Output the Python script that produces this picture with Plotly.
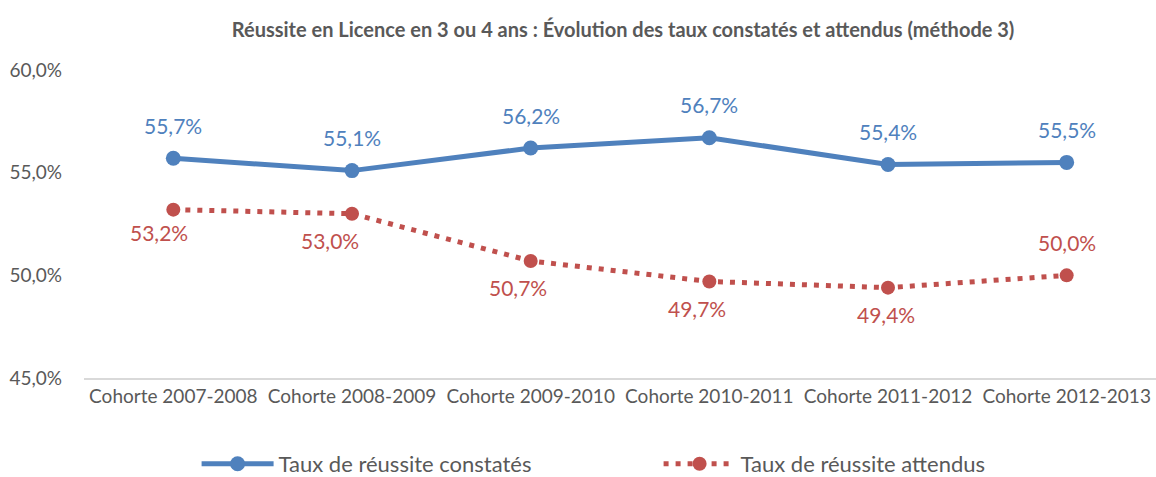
import plotly.graph_objects as go

cohortes = ["Cohorte 2007-2008", "Cohorte 2008-2009", "Cohorte 2009-2010",
            "Cohorte 2010-2011", "Cohorte 2011-2012", "Cohorte 2012-2013"]
constates = [55.7, 55.1, 56.2, 56.7, 55.4, 55.5]
attendus = [53.2, 53.0, 50.7, 49.7, 49.4, 50.0]
ytick_vals = [45, 50, 55, 60]

BLUE = "#4F81BD"
RED = "#C0504D"
GREY = "#595959"
FONT = "Lato"

# label nudges (px) as placed in the original chart
red_dx = [-14, -22, -13, -12, -2, 0]
red_dy = [-23, -27, -27, -27, -27, 33]


def fr(v):
    return f"{v:.1f}%".replace(".", ",")


fig = go.Figure()
fig.add_trace(go.Scatter(
    x=cohortes, y=constates, mode="lines+markers",
    name="Taux de réussite constatés",
    line=dict(color=BLUE, width=5),
    marker=dict(color=BLUE, size=15, symbol="circle")))

fig.add_trace(go.Scatter(
    x=cohortes, y=attendus, mode="lines+markers",
    name="Taux de réussite attendus",
    line=dict(color=RED, width=5, dash="5px,7px"),
    marker=dict(color=RED, size=14, symbol="circle")))

for c, v in zip(cohortes, constates):
    fig.add_annotation(x=c, y=v, text=fr(v), showarrow=False, yshift=33,
                       font=dict(color=BLUE, size=21, family=FONT))
for c, v, dx, dy in zip(cohortes, attendus, red_dx, red_dy):
    fig.add_annotation(x=c, y=v, text=fr(v), showarrow=False, xshift=dx, yshift=dy,
                       font=dict(color=RED, size=21, family=FONT))

fig.update_layout(
    width=1156, height=477,
    paper_bgcolor="white", plot_bgcolor="white",
    font=dict(family=FONT, color=GREY),
    title=dict(text="<b>Réussite en Licence en 3 ou 4 ans : Évolution des taux constatés et attendus (méthode 3)</b>",
               x=0.539, xanchor="center", y=1 - 30 / 477, yanchor="middle",
               font=dict(size=20, color=GREY, family=FONT)),
    margin=dict(l=84, r=0, t=70, b=99),
    xaxis=dict(range=[-0.5, 5.5], showgrid=False, showline=True, linecolor="#D9D9D9",
               linewidth=1.5, ticks="", automargin=False,
               tickfont=dict(size=19, color=GREY, family=FONT)),
    yaxis=dict(range=[45, 60], tickvals=ytick_vals,
               ticktext=[fr(v) for v in ytick_vals],
               showgrid=False, zeroline=False, showline=False, automargin=False,
               tickfont=dict(size=19, color=GREY, family=FONT), ticks="",
               ticklabelstandoff=21),
    legend=dict(orientation="h", x=0.536, xanchor="center",
                yref="container", y=1 - 464 / 477, yanchor="middle",
                font=dict(size=22, color=GREY, family=FONT),
                itemwidth=72, entrywidth=375),
    showlegend=True,
)
fig.write_html("out.html", post_script="document.body.style.margin='0';",
               config={"displayModeBar": False})
